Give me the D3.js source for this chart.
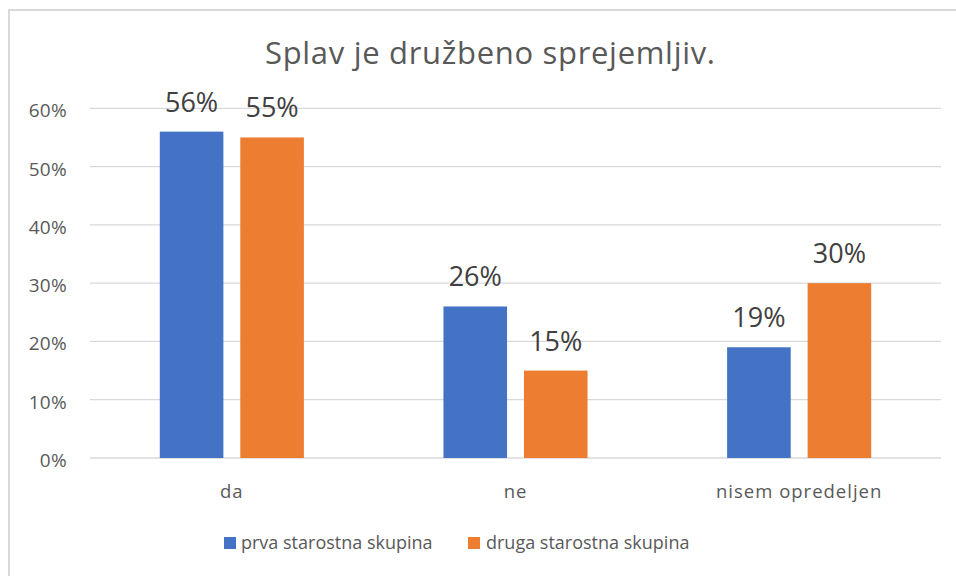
<!DOCTYPE html>
<html><head><meta charset="utf-8">
<script src="https://cdn.jsdelivr.net/npm/d3@7"></script>
<style>html,body{margin:0;padding:0;background:#fff;}svg{display:block;}</style>
</head><body>
<script>
const categories = ["da", "ne", "nisem opredeljen"];
const seriesNames = ["prva starostna skupina", "druga starostna skupina"];
const prva = [0.56, 0.26, 0.19];
const druga = [0.55, 0.15, 0.30];
const yTicks = [0, 0.1, 0.2, 0.3, 0.4, 0.5, 0.6];
const colors = ["#4472C4", "#ED7D31"];
const title = "Splav je družbeno sprejemljiv.";

const W = 956, H = 576;
const svg = d3.select("body").append("svg").attr("width", W).attr("height", H);
const font = "'Open Sans', 'Noto Sans', sans-serif";
const textColor = "#595959";

// chart border
svg.append("rect").attr("x", 9).attr("y", 10).attr("width", 960).attr("height", 600)
  .attr("fill", "none").attr("stroke", "#D9D9D9").attr("stroke-width", 2);

const x0 = d3.scaleBand().domain(categories).range([90, 941]).paddingInner(0.492).paddingOuter(0.246);
const x1 = d3.scaleBand().domain(seriesNames).range([0, x0.bandwidth()]).paddingInner(0.21);
const y = d3.scaleLinear().domain([0, 0.6]).range([458, 108.3]);

// gridlines
svg.append("g").selectAll("line").data(yTicks).join("line")
  .attr("x1", 90).attr("x2", 941)
  .attr("y1", d => y(d)).attr("y2", d => y(d))
  .attr("stroke", "#D9D9D9").attr("stroke-width", 1.3);

// y axis
const yAxis = svg.append("g").attr("transform", "translate(67,0)")
  .call(d3.axisLeft(y).tickValues(yTicks).tickFormat(d3.format(".0%")).tickSize(0).tickPadding(0));
yAxis.select(".domain").remove();
yAxis.selectAll("text").attr("font-family", font).attr("font-size", 19).attr("fill", textColor)
  .attr("dy", "0.45em").attr("letter-spacing", 0.3);

// x axis labels
const xAxis = svg.append("g").attr("transform", "translate(0,458)")
  .call(d3.axisBottom(x0).tickSize(0).tickPadding(0));
xAxis.select(".domain").remove();
xAxis.selectAll("text").attr("font-family", font).attr("font-size", 18.5).attr("fill", textColor)
  .attr("dy", null).attr("y", 40).attr("letter-spacing", 1);

const data = categories.map((c, i) => ({cat: c, vals: [prva[i], druga[i]]}));
const groups = svg.append("g").selectAll("g").data(data).join("g")
  .attr("transform", d => `translate(${x0(d.cat)},0)`);
groups.selectAll("rect").data(d => d.vals.map((v, j) => ({name: seriesNames[j], v, j}))).join("rect")
  .attr("x", d => x1(d.name)).attr("width", x1.bandwidth())
  .attr("y", d => y(d.v)).attr("height", d => y(0) - y(d.v))
  .attr("fill", d => colors[d.j]);
groups.selectAll("text").data(d => d.vals.map((v, j) => ({name: seriesNames[j], v, j}))).join("text")
  .attr("x", d => x1(d.name) + x1.bandwidth() / 2)
  .attr("y", d => y(d.v) - 20)
  .attr("text-anchor", "middle")
  .attr("font-family", font).attr("font-size", 27).attr("fill", "#404040")
  .text(d => d3.format(".0%")(d.v));

// title
svg.append("text").attr("x", 490).attr("y", 64).attr("text-anchor", "middle")
  .attr("font-family", font).attr("font-size", 31).attr("fill", textColor)
  .attr("textLength", 450).attr("lengthAdjust", "spacing").text(title);

// legend
const legendItems = [{x: 224, tx: 241}, {x: 468, tx: 486}];
const lg = svg.append("g").selectAll("g").data(seriesNames).join("g");
lg.append("rect").attr("x", (d, i) => legendItems[i].x).attr("y", 537).attr("width", 12).attr("height", 12)
  .attr("fill", (d, i) => colors[i]);
lg.append("text").attr("x", (d, i) => legendItems[i].tx).attr("y", 549)
  .attr("font-family", font).attr("font-size", 18).attr("fill", textColor).text(d => d);
</script>
</body></html>
